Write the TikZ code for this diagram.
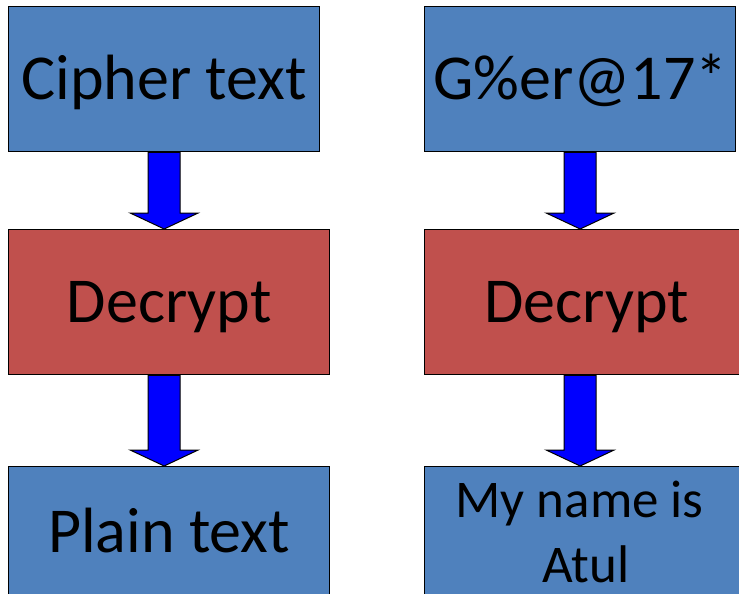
\documentclass[tikz,border=0pt]{standalone}
\usepackage{fontspec}
\setmainfont{Carlito}
\usetikzlibrary{calc}
\definecolor{boxblue}{HTML}{4F81BD}
\definecolor{boxred}{HTML}{C0504D}
\definecolor{arrowblue}{HTML}{0000FF}
\tikzset{
  box/.style={draw=black, line width=1.3pt, anchor=north west, inner sep=0pt,
    font=\fontsize{64}{77}\selectfont, text height=40.4pt, text depth=0pt},
  bluebox/.style={box, fill=boxblue},
  redbox/.style={box, fill=boxred},
  fatarrow/.style={draw=black, line width=1pt, fill=arrowblue,
    to path={let \p1=(\tikztostart), \p2=(\tikztotarget) in
      (\x1-16pt,\y1) -- (\x1+16pt,\y1) -- (\x1+16pt,\y2+16pt) -- (\x1+34pt,\y2+16pt)
      -- (\x1,\y2) -- (\x1-34pt,\y2+16pt) -- (\x1-16pt,\y2+16pt) -- cycle}},
}
\begin{document}
\begin{tikzpicture}[x=1pt,y=-1pt]
\useasboundingbox (0,0) rectangle (739,594);
\clip (0,0) rectangle (739,594);

% left column
\node[bluebox, minimum width=311pt, minimum height=145pt] (c1) at (8,6) {Cipher text};
\node[redbox, minimum width=321pt, minimum height=145pt] (d1) at (8,229) {Decrypt};
\node[bluebox, minimum width=321pt, minimum height=132pt] (p1) at (8,466) {Plain text};

% right column
\node[bluebox, minimum width=311pt, minimum height=145pt] (c2) at (424,6) {G\%er@17*};
\node[redbox, minimum width=324pt, minimum height=145pt] (d2) at (424,229) {Decrypt};
\node[bluebox, minimum width=322pt, minimum height=134pt, align=center,
  font=\fontsize{53}{65}\selectfont, text height=98.5pt, text depth=0pt]
  (p2) at (424,466) {My name is\kern12pt\\Atul};

% block arrows
\draw[fatarrow] (c1.south) to (d1.north -| c1.south);
\draw[fatarrow] (d1.south -| c1.south) to (p1.north -| c1.south);
\draw[fatarrow] (c2.south) to (d2.north -| c2.south);
\draw[fatarrow] (d2.south -| c2.south) to (p2.north -| c2.south);
\end{tikzpicture}
\end{document}
